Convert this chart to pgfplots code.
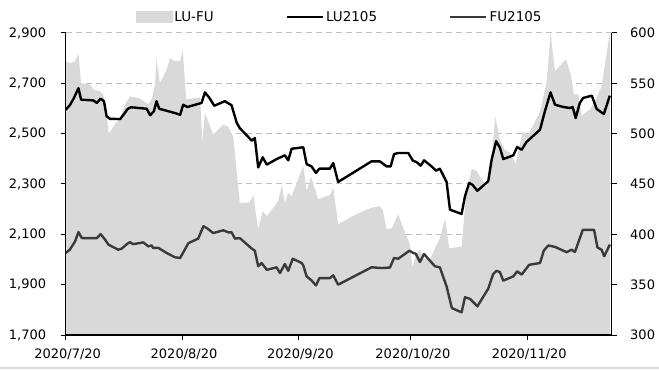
\documentclass[border=0pt]{standalone}
\usepackage{fontspec}
\setmainfont{DejaVu Sans}
\usepackage{pgfplots}
\usepackage{pgfplotstable}
\pgfplotsset{compat=1.18}
\definecolor{areagray}{HTML}{D9D9D9}
\definecolor{gridgray}{HTML}{BFBFBF}
\definecolor{fugray}{HTML}{3A3A3A}

\pgfplotstableread{
day lu
0 2595
1.1 2613
2.2 2642
3.4 2681
4.1 2635
7.4 2632
8.3 2622
9.3 2639
10.2 2629
10.9 2569
11.8 2559
14.5 2558
15.3 2573
16.5 2598
17.4 2605
21.6 2599
22.5 2573
23.5 2589
24.2 2629
24.9 2599
26.9 2591
29.1 2582
30.5 2575
31.3 2615
32.4 2606
36.2 2622
37.1 2664
38.3 2642
39.6 2611
42.4 2629
44.2 2613
45.6 2542
46.4 2522
49.6 2472
50.4 2483
51.3 2366
52.5 2406
53.6 2377
56.2 2399
58.4 2414
59.3 2394
60.2 2440
63.3 2446
64.2 2379
65.5 2370
66.7 2344
67.6 2361
70.4 2361
71.3 2383
72.6 2308
81.5 2390
83.7 2390
85.5 2370
86.6 2370
87.5 2419
88.6 2423
91.3 2423
92.5 2393
93.5 2387
94.6 2373
95.5 2394
97.5 2370
98.7 2353
99.7 2361
101.5 2308
102.4 2198
105.5 2181
106.4 2251
107.5 2304
108.4 2297
109.7 2273
112.6 2311
113.5 2396
114.7 2470
115.7 2445
116.6 2399
119.3 2414
120.3 2447
121.5 2436
122.8 2467
126.4 2516
127.7 2589
129.2 2664
130.4 2615
132.6 2606
134.4 2602
135.1 2606
135.9 2562
137.0 2622
137.9 2642
140.2 2651
141.5 2598
143.4 2578
145.0 2651
}\lutable

\pgfplotstableread{
day fu
0 2026
1.1 2039
2.5 2072
3.4 2109
4.3 2085
8.3 2085
9.3 2101
10.5 2079
11.4 2059
14.0 2039
14.9 2043
16.3 2061
17.1 2069
18.0 2061
20.7 2068
22.0 2052
22.9 2056
23.3 2046
24.7 2046
26.9 2026
29.1 2009
30.5 2006
32.7 2065
35.3 2083
36.7 2132
37.6 2125
39.3 2105
42.0 2116
43.3 2108
44.2 2108
45.1 2083
46.4 2085
49.6 2043
50.4 2035
51.3 1973
52.2 1986
53.6 1959
56.2 1969
57.1 1946
58.4 1982
59.3 1955
60.5 2003
62.9 1986
63.3 1977
64.2 1933
65.5 1917
66.7 1897
67.6 1926
70.4 1926
71.3 1937
72.6 1900
81.5 1969
84.2 1966
86.4 1968
87.5 2006
88.6 2003
91.6 2035
92.6 2026
93.3 2023
94.4 1990
95.5 2022
96.6 2003
98.4 1973
99.7 1969
101.5 1893
102.9 1807
105.5 1790
106.4 1850
107.7 1844
109.7 1814
112.6 1884
113.9 1942
114.8 1955
115.7 1950
116.6 1916
119.3 1933
120.3 1953
121.5 1940
123.5 1979
126.4 1986
127.4 2035
128.6 2056
130.4 2050
133.5 2029
134.8 2039
135.7 2030
137.8 2118
140.8 2118
141.7 2048
142.8 2039
143.5 2013
145.0 2059
}\futable

\pgfplotstableread{
day spread
0 572
1.1 570
2.5 572
3.4 580
4.1 550
6.5 549
7.4 544
8.3 543
9.1 542
10.0 539
10.9 519
11.5 500
12.7 507
14.5 516
15.8 529
17.1 537
19.8 535
22.0 529
22.9 534
23.8 549
24.2 574
25.1 550
26.9 564
27.8 575
29.1 572
30.5 572
31.2 583
32.1 534
35.8 536
36.4 492
37.1 521
38.0 512
39.3 499
42.0 509
43.3 507
44.7 496
46.0 446
46.4 431
49.1 432
50.0 439
50.7 420
51.3 405
52.5 423
53.6 418
56.6 433
57.6 449
58.4 431
59.3 441
60.2 438
63.3 468
64.2 443
65.4 457
67.3 435
70.4 439
71.3 446
72.6 410
77.5 420
81.1 426
83.7 428
84.5 424
85.5 405
86.9 406
88.6 420
90.0 406
91.7 390
92.4 367
93.3 380
94.4 385
95.3 376
97.1 375
98.9 390
99.7 396
101.1 416
102.2 386
105.5 388
106.7 439
108.2 465
109.5 463
112.2 446
113.5 479
114.5 517
115.7 494
117.0 484
118.4 481
119.9 470
121.8 502
123.3 499
126.4 522
128.2 552
129.2 600
130.4 562
133.3 574
134.6 559
135.4 539
136.6 539
137.5 518
139.7 524
141.0 532
142.8 547
145.0 600
}\spreadtable

\begin{document}
\begin{tikzpicture}
\useasboundingbox (-65.7bp,-35bp) rectangle (593.3bp,335bp);
\draw[areagray, line width=1.2bp] (-65.7bp,-33bp) -- (593.3bp,-33bp);
% Area on the right axis
\begin{axis}[
  at={(0,0)}, anchor=south west,
  scale only axis, width=546bp, height=302bp,
  xmin=0, xmax=145.5,
  ymin=300, ymax=600,
  axis x line=none,
  axis y line*=right,
  ytick={300,350,...,600},
  ymajorgrids,
  grid style={gridgray, line width=1bp, dash pattern=on 6bp off 4bp},
  axis line style={black, line width=1.2bp, -},
  tick align=outside,
  major tick length=5bp,
  tick style={black, line width=1bp},
  ticklabel style={font=\fontsize{13bp}{15bp}\selectfont},
  yticklabel style={xshift=10bp},
  /pgf/number format/assume math mode=true,
  axis on top=false,
]
\addplot[fill=areagray, draw=none] table[x=day, y=spread] {\spreadtable} \closedcycle;
\end{axis}
% Lines on the left axis
\begin{axis}[
  at={(0,0)}, anchor=south west,
  scale only axis, width=546bp, height=302bp,
  xmin=0, xmax=145.5,
  ymin=1700, ymax=2900,
  axis y line*=left,
  axis x line*=bottom,
  ytick={1700,1900,...,2900},
  xtick={0,31,62,92,123},
  xticklabels={2020/7/20,2020/8/20,2020/9/20,2020/10/20,2020/11/20},
  axis line style={black, line width=1.2bp, -},
  tick align=outside,
  major tick length=5bp,
  tick style={black, line width=1bp},
  ticklabel style={font=\fontsize{13bp}{15bp}\selectfont},
  yticklabel style={xshift=-11bp},
  xticklabel style={yshift=-5bp, xshift=2bp},
  /pgf/number format/assume math mode=true,
  /pgf/number format/1000 sep={,},
  /pgf/number format/fixed,
  legend columns=3,
  legend style={at={(0.502,1.053)}, anchor=center, draw=none, fill=none,
    font=\fontsize{13.5bp}{15bp}\selectfont,
    /tikz/every even column/.append style={column sep=70bp}},
]
\addlegendimage{legend image code/.code={\fill[areagray] (0bp,-5.5bp) rectangle (36bp,5.5bp);}}
\addlegendentry{LU-FU}
\addplot[black, line width=2.4bp, line join=round,
  legend image code/.code={\draw[black, line width=2.4bp] (0bp,0bp) -- (36bp,0bp);}]
  table[x=day, y=lu] {\lutable};
\addlegendentry{LU2105}
\addplot[fugray, line width=2.4bp, line join=round,
  legend image code/.code={\draw[fugray, line width=2.4bp] (0bp,0bp) -- (36bp,0bp);}]
  table[x=day, y=fu] {\futable};
\addlegendentry{FU2105}
\end{axis}
\end{tikzpicture}
\end{document}
